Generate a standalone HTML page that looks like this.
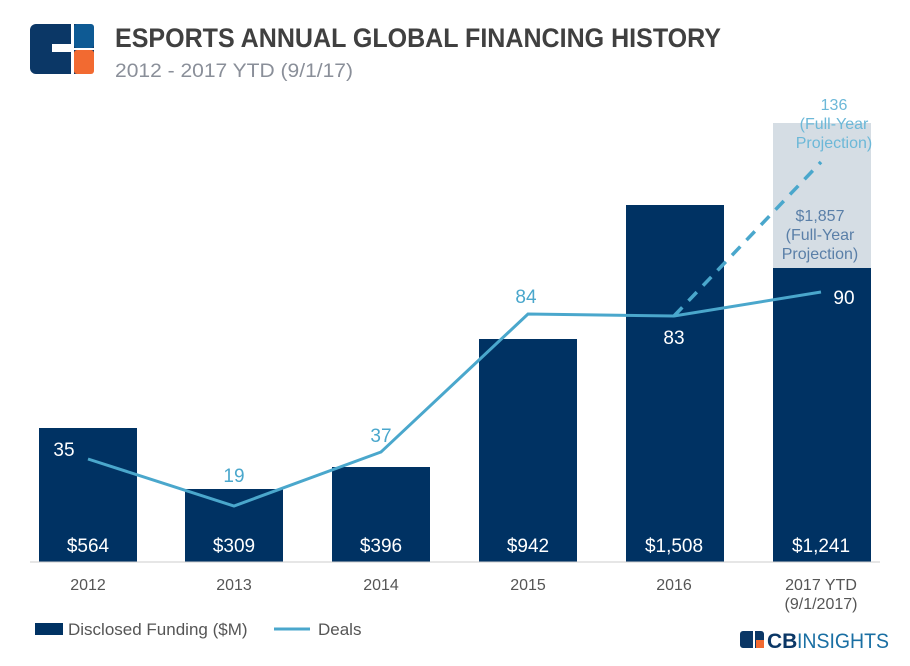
<!DOCTYPE html>
<html><head><style>
body{margin:0;background:#fff;width:910px;height:661px;overflow:hidden;font-family:"Liberation Sans",sans-serif}
</style></head><body>
<svg width="910" height="661" xmlns="http://www.w3.org/2000/svg" font-family="Liberation Sans, sans-serif">
<!-- logo -->
<rect x="30" y="24" width="64" height="50" rx="6" fill="#0b3766"/>
<rect x="74" y="24" width="20" height="24" rx="3" fill="#0e5a94"/>
<rect x="74" y="50" width="20" height="24" rx="3" fill="#f26a31"/>
<rect x="71" y="24" width="3" height="50" fill="#fff"/>
<rect x="52" y="44" width="22" height="8" fill="#fff"/>
<rect x="74" y="48" width="20" height="2" fill="#fff"/>
<text x="115" y="47" font-size="27" font-weight="bold" fill="#404040" textLength="606" lengthAdjust="spacingAndGlyphs">ESPORTS ANNUAL GLOBAL FINANCING HISTORY</text>
<text x="115" y="77" font-size="19" fill="#8a8f99" textLength="238" lengthAdjust="spacingAndGlyphs">2012 - 2017 YTD (9/1/17)</text>
<!-- bars -->
<g fill="#003263">
<rect x="39" y="428" width="98" height="134"/>
<rect x="185" y="489" width="98" height="73"/>
<rect x="332" y="467" width="98" height="95"/>
<rect x="479" y="339" width="98" height="223"/>
<rect x="626" y="205" width="98" height="357"/>
<rect x="773" y="268" width="98" height="294"/>
</g>
<rect x="773" y="123" width="98" height="145" fill="#d5dde4"/>
<line x1="30" y1="562" x2="880" y2="562" stroke="#ccc"/>
<!-- line -->
<polyline points="88,459 234,506 381,452 528,314 674,316 821,292" fill="none" stroke="#4aa7cc" stroke-width="3"/>
<line x1="674" y1="316" x2="821" y2="162" stroke="#4aa7cc" stroke-width="3.5" stroke-dasharray="12,9"/>
<g font-size="19" text-anchor="middle">
<text x="88" y="552" fill="#fff">$564</text>
<text x="234" y="552" fill="#fff">$309</text>
<text x="381" y="552" fill="#fff">$396</text>
<text x="528" y="552" fill="#fff">$942</text>
<text x="674" y="552" fill="#fff">$1,508</text>
<text x="821" y="552" fill="#fff">$1,241</text>
<text x="64" y="456" fill="#fff">35</text>
<text x="234" y="482" fill="#4aa7cc">19</text>
<text x="381" y="442" fill="#4aa7cc">37</text>
<text x="526" y="303" fill="#4aa7cc">84</text>
<text x="674" y="344" fill="#fff">83</text>
<text x="844" y="304" fill="#fff">90</text>
</g>
<g font-size="16" text-anchor="middle" fill="#5a7fa8">
<text x="820" y="221">$1,857</text>
<text x="820" y="240">(Full-Year</text>
<text x="820" y="259">Projection)</text>
</g>
<g font-size="16" text-anchor="middle" fill="#6cb8d8">
<text x="834" y="110">136</text>
<text x="834" y="129">(Full-Year</text>
<text x="834" y="148">Projection)</text>
</g>
<g font-size="16" text-anchor="middle" fill="#555">
<text x="88" y="590">2012</text>
<text x="234" y="590">2013</text>
<text x="381" y="590">2014</text>
<text x="528" y="590">2015</text>
<text x="674" y="590">2016</text>
<text x="821" y="590">2017 YTD</text>
<text x="821" y="609">(9/1/2017)</text>
</g>
<rect x="35" y="623" width="28" height="12" fill="#003263"/>
<text x="68" y="635" font-size="17" fill="#555">Disclosed Funding ($M)</text>
<line x1="274" y1="629" x2="310" y2="629" stroke="#4aa7cc" stroke-width="3"/>
<text x="318" y="635" font-size="17" fill="#555">Deals</text>
<!-- cb insights -->
<rect x="740" y="631" width="24" height="17" rx="3" fill="#0b3766"/>
<rect x="756" y="640" width="8" height="8" fill="#f26a31"/>
<rect x="753" y="631" width="2" height="17" fill="#fff"/>
<text x="767" y="648" font-size="21" font-weight="bold" fill="#0b3766">CB</text>
<text x="797" y="648" font-size="21" fill="#1a6fa3" textLength="92" lengthAdjust="spacingAndGlyphs">INSIGHTS</text>
</svg>
</body></html>
